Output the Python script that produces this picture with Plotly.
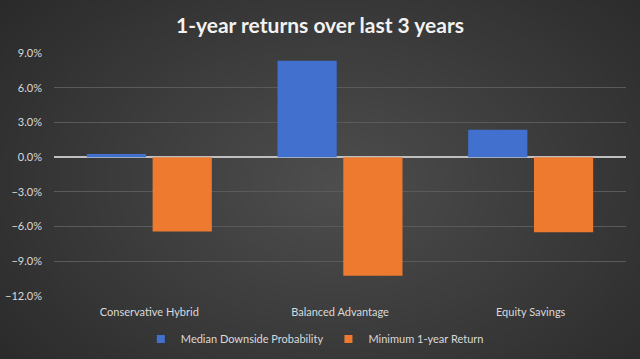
import plotly.graph_objects as go

categories = ["Conservative Hybrid", "Balanced Advantage", "Equity Savings"]
median_downside = [0.0027, 0.0833, 0.0236]
min_1yr_return = [-0.0643, -0.1026, -0.065]
tick_vals = [-0.12, -0.09, -0.06, -0.03, 0.0, 0.03, 0.06, 0.09]
series_names = ["Median Downside Probability", "Minimum 1-year Return"]
series_colors = ["#4170cf", "#ee7a30"]

W, H = 640, 359
L, R, T, B = 54, 14, 53, 63
pw, ph = W - L - R, H - T - B

def px2paper_x(x):
    return (x - L) / pw

def px2paper_y(y):
    return (H - B - y) / ph

fig = go.Figure()
for name, vals, col in zip(series_names, [median_downside, min_1yr_return], series_colors):
    fig.add_trace(go.Bar(
        name=name, x=categories, y=vals, showlegend=False,
        marker=dict(color=col, line=dict(width=0)),
    ))
# legend entries with small square swatches
for name, col in zip(series_names, series_colors):
    fig.add_trace(go.Scatter(
        name=name, x=[None], y=[None], mode="markers",
        marker=dict(symbol="square", size=8, color=col),
    ))

# radial-ish background glow
shapes = []
cx, cy = 335, 185
n = 40
for i in range(n):
    f = 1 - i / n
    rx, ry = 480 * f, 330 * f
    shapes.append(dict(
        type="circle", xref="paper", yref="paper", layer="below",
        x0=px2paper_x(cx - rx), x1=px2paper_x(cx + rx),
        y0=px2paper_y(cy + ry), y1=px2paper_y(cy - ry),
        fillcolor="rgba(255,255,255,0.0068)", line=dict(width=0),
    ))

title_text = "1-year returns over last 3 years"

fig.update_layout(
    width=W, height=H,
    margin=dict(l=L, r=R, t=T, b=B, autoexpand=False),
    paper_bgcolor="#252525",
    plot_bgcolor="rgba(0,0,0,0)",
    shapes=shapes,
    barmode="group",
    bargap=0.31,
    bargroupgap=0.1,
    font=dict(family="Lato, 'Open Sans', sans-serif", color="#d9d9d9", size=11),
    title=dict(
        text=title_text,
        x=0.5, xref="container", xanchor="center",
        y=1 - 26 / H, yanchor="middle",
        font=dict(family="Lato, 'Open Sans', sans-serif", size=21, color="#f2f2f2", weight="bold"),
    ),
    xaxis=dict(
        showgrid=False, showline=False, ticks="", zeroline=False,
        ticklabelstandoff=8, automargin=False,
        tickfont=dict(size=11, color="#d9d9d9"),
    ),
    yaxis=dict(
        range=[-0.12, 0.09], tickvals=tick_vals, tickformat=".1%",
        showgrid=True, gridcolor="#5a5a5a", gridwidth=1,
        zeroline=True, zerolinecolor="#bfbfbf", zerolinewidth=1.5,
        showline=False, ticks="", ticklabelstandoff=11, automargin=False,
        tickfont=dict(size=11, color="#d9d9d9"),
    ),
    legend=dict(
        orientation="h", x=0.456, xanchor="center", y=-0.177, yanchor="middle",
        font=dict(size=11, color="#d9d9d9"), bgcolor="rgba(0,0,0,0)",
        itemwidth=30,
    ),
)

fig.write_html("out.html")
